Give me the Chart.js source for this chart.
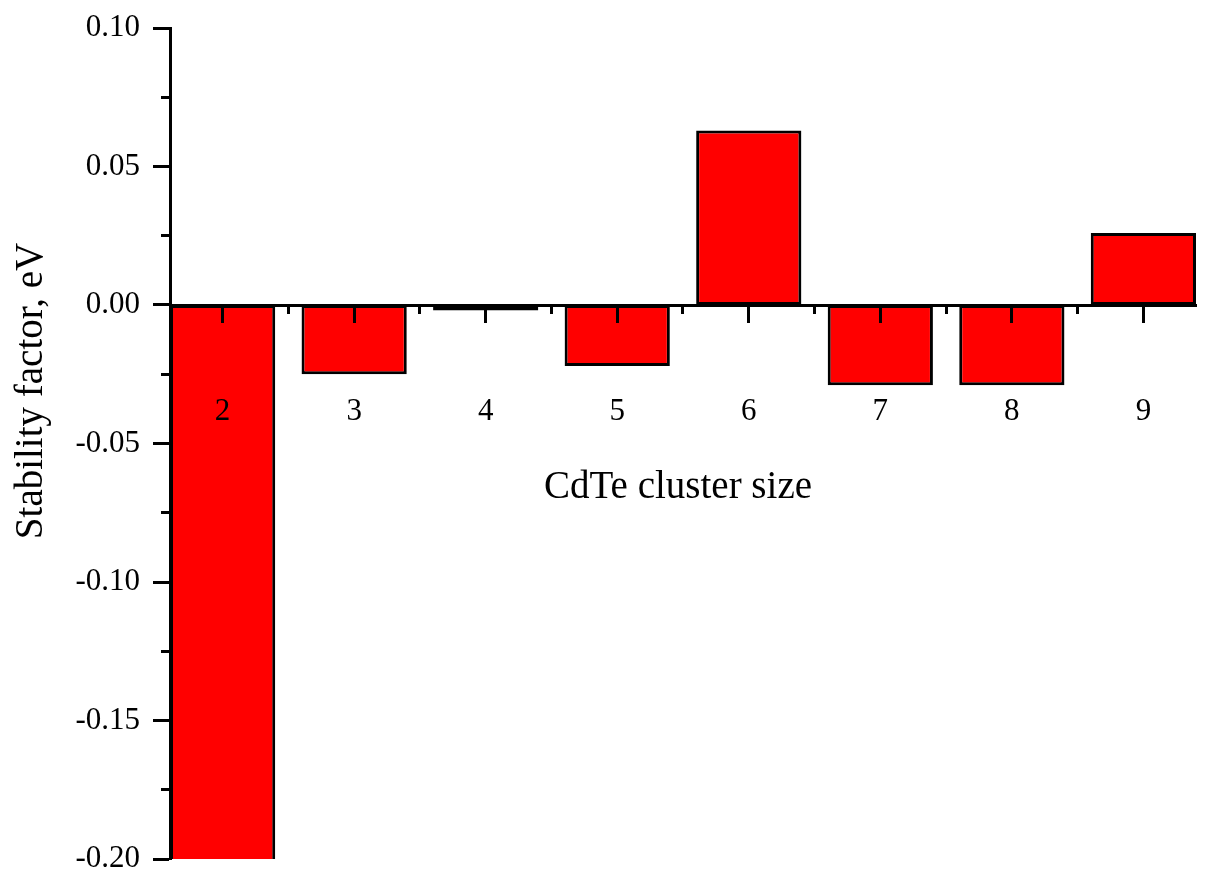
<!DOCTYPE html>
<html>
<head>
<meta charset="utf-8">
<script src="https://cdn.jsdelivr.net/npm/chart.js@4/dist/chart.umd.min.js"></script>
<style>
  html, body { margin: 0; padding: 0; background: #fff; }
  #wrap { width: 1207px; height: 880px; }
</style>
</head>
<body>
<div id="wrap"><canvas id="chart"></canvas></div>
<script>
// data
const clusterSizes = [2, 3, 4, 5, 6, 7, 8, 9];
const stabilityFactor = [-0.21, -0.025, -0.002, -0.022, 0.063, -0.029, -0.029, 0.026];
const xTitle = 'CdTe cluster size';
const yTitle = 'Stability factor, eV';

const serif = '"Liberation Serif", "Times New Roman", serif';

const isMajor = (v, step) => Math.abs(Math.round(v / step) * step - v) < 1e-6;

// axis titles are drawn here, Origin puts them off-centre
const titlePlugin = {
  id: 'axisTitles',
  afterDraw(chart) {
    const { ctx, chartArea } = chart;
    ctx.save();
    ctx.fillStyle = '#000';
    ctx.font = '39px ' + serif;
    ctx.textAlign = 'center';
    ctx.textBaseline = 'middle';
    ctx.fillText(xTitle, (chartArea.left + chartArea.right) / 2 - 5, 488);
    ctx.translate(32, 391);
    ctx.rotate(-Math.PI / 2);
    ctx.fillText(yTitle, 0, 0);
    ctx.restore();
  }
};

new Chart(document.getElementById('chart'), {
  type: 'bar',
  data: {
    datasets: [{
      data: clusterSizes.map((x, i) => ({ x: x, y: stabilityFactor[i] })),
      backgroundColor: '#ff0000',
      borderColor: '#000',
      borderWidth: 3,
      borderSkipped: false,
      // min spacing is taken from the half-unit minor ticks, so 1.6 -> 0.8 of a unit
      barPercentage: 1.6,
      categoryPercentage: 1,
      clip: 0
    }]
  },
  options: {
    responsive: true,
    maintainAspectRatio: false,
    animation: false,
    layout: { padding: { top: 28, right: 11, bottom: 21, left: 0 } },
    plugins: { legend: { display: false }, tooltip: { enabled: false } },
    scales: {
      x: {
        type: 'linear',
        position: { y: 0 },
        min: 1.6,
        max: 9.4,
        offset: false,
        afterFit: (s) => { s.height = 0; s.paddingLeft = 0; s.paddingRight = 0; },
        afterBuildTicks: (s) => {
          const t = [];
          for (let v = 1.5; v <= 9.5; v += 0.5) if (v > 1.6 && v < 9.4) t.push({ value: v });
          s.ticks = t;
        },
        border: { display: true, color: '#000', width: 3, z: 1 },
        grid: {
          offset: false,
          z: 1,
          drawOnChartArea: false,
          drawTicks: true,
          tickLength: 16,
          tickWidth: 3,
          tickColor: '#000',
          tickBorderDash: (c) => (c.tick && isMajor(c.tick.value, 1)) ? [] : [7, 40]
        },
        ticks: {
          z: 1,
          autoSkip: false,
          maxRotation: 0,
          padding: 72,
          color: '#000',
          font: { family: serif, size: 31 },
          callback: (v) => isMajor(v, 1) ? String(Math.round(v)) : ''
        }
      },
      y: {
        min: -0.2,
        max: 0.1,
        afterFit: (s) => { s.width = 170; s.paddingTop = 0; s.paddingBottom = 0; },
        border: { display: true, color: '#000', width: 3, z: 1 },
        grid: {
          z: 1,
          drawOnChartArea: false,
          drawTicks: true,
          tickLength: 17,
          tickWidth: 3,
          tickColor: '#000',
          tickBorderDash: (c) => (c.tick && isMajor(c.tick.value, 0.05)) ? [] : [0, 8, 40]
        },
        ticks: {
          stepSize: 0.025,
          autoSkip: false,
          padding: 13,
          color: '#000',
          font: { family: serif, size: 31 },
          callback: (v) => isMajor(v, 0.05) ? v.toFixed(2) : ''
        }
      }
    }
  },
  plugins: [titlePlugin]
});
</script>
</body>
</html>
